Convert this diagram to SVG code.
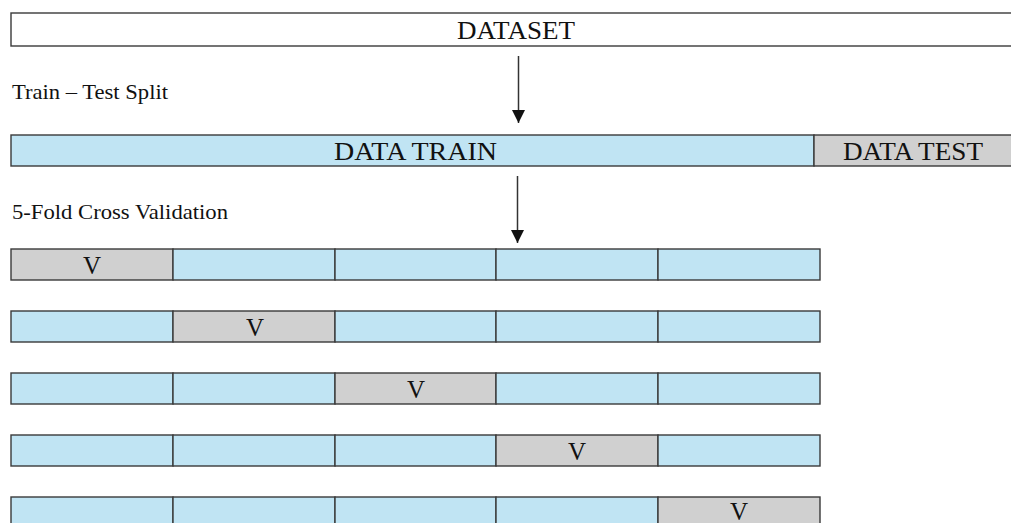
<svg xmlns="http://www.w3.org/2000/svg" width="1011" height="523" viewBox="0 0 1011 523">
<style>
.box{stroke:#3a3a3a;stroke-width:1.4}
.w{fill:#ffffff}
.b{fill:#c0e4f3}
.g{fill:#d0d0d0}
text{font-family:'Liberation Serif','Times New Roman',serif;fill:#111}
.big{font-size:25px}
.v{font-size:25px;text-anchor:middle}
.lab{font-size:21px}
.arr{stroke:#333;stroke-width:1.5;fill:none}
</style>
<defs>
<marker id="ad" markerWidth="13" markerHeight="14" refX="13" refY="6.5" orient="auto" markerUnits="userSpaceOnUse" viewBox="0 0 13 14">
<path d="M0,0 L13,6.5 L0,13 Z" fill="#111"/>
</marker>
</defs>
<g id="dataset">
<rect class="box w" x="11" y="13" width="1010" height="33"/>
<text class="big" x="457" y="39" textLength="118" lengthAdjust="spacingAndGlyphs">DATASET</text>
</g>
<text class="lab" x="12" y="99" textLength="156" lengthAdjust="spacingAndGlyphs">Train – Test Split</text>
<g id="datatrain">
<rect class="box b" x="11" y="135" width="803" height="31"/>
<text class="big" x="334" y="160" textLength="163" lengthAdjust="spacingAndGlyphs">DATA TRAIN</text>
</g>
<g id="datatest">
<rect class="box g" x="814" y="135" width="210" height="31"/>
<text class="big" x="843" y="160" textLength="140" lengthAdjust="spacingAndGlyphs">DATA TEST</text>
</g>
<text class="lab" x="12" y="219" textLength="216" lengthAdjust="spacingAndGlyphs">5-Fold Cross Validation</text>
<g id="connectors">
<line class="arr" x1="518.5" y1="56" x2="518.5" y2="123" marker-end="url(#ad)"/>
<line class="arr" x1="517.5" y1="176" x2="517.5" y2="243" marker-end="url(#ad)"/>
</g>
<g id="fold1">
<rect class="box g" x="11" y="249" width="162" height="31"/>
<rect class="box b" x="173" y="249" width="162" height="31"/>
<rect class="box b" x="335" y="249" width="161" height="31"/>
<rect class="box b" x="496" y="249" width="162" height="31"/>
<rect class="box b" x="658" y="249" width="162" height="31"/>
<text class="v" x="92" y="274">V</text>
</g>
<g id="fold2">
<rect class="box b" x="11" y="311" width="162" height="31"/>
<rect class="box g" x="173" y="311" width="162" height="31"/>
<rect class="box b" x="335" y="311" width="161" height="31"/>
<rect class="box b" x="496" y="311" width="162" height="31"/>
<rect class="box b" x="658" y="311" width="162" height="31"/>
<text class="v" x="255" y="336">V</text>
</g>
<g id="fold3">
<rect class="box b" x="11" y="373" width="162" height="31"/>
<rect class="box b" x="173" y="373" width="162" height="31"/>
<rect class="box g" x="335" y="373" width="161" height="31"/>
<rect class="box b" x="496" y="373" width="162" height="31"/>
<rect class="box b" x="658" y="373" width="162" height="31"/>
<text class="v" x="416" y="398">V</text>
</g>
<g id="fold4">
<rect class="box b" x="11" y="435" width="162" height="31"/>
<rect class="box b" x="173" y="435" width="162" height="31"/>
<rect class="box b" x="335" y="435" width="161" height="31"/>
<rect class="box g" x="496" y="435" width="162" height="31"/>
<rect class="box b" x="658" y="435" width="162" height="31"/>
<text class="v" x="577" y="460">V</text>
</g>
<g id="fold5">
<rect class="box b" x="11" y="497" width="162" height="31"/>
<rect class="box b" x="173" y="497" width="162" height="31"/>
<rect class="box b" x="335" y="497" width="161" height="31"/>
<rect class="box b" x="496" y="497" width="162" height="31"/>
<rect class="box g" x="658" y="497" width="162" height="31"/>
<text class="v" x="739" y="520">V</text>
</g>
</svg>
